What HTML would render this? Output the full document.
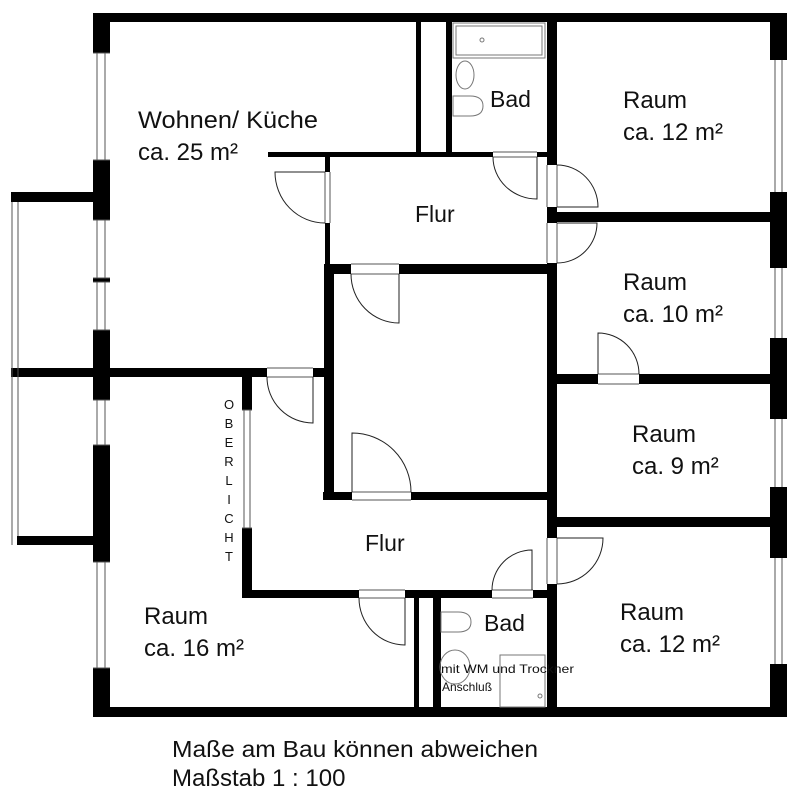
<!DOCTYPE html>
<html><head><meta charset="utf-8"><style>
html,body{margin:0;padding:0;background:#fff;}
svg{display:block;}
text{font-family:"Liberation Sans",Arial,sans-serif;fill:#111;}
</style></head><body>
<svg width="798" height="800" viewBox="0 0 798 800" xmlns="http://www.w3.org/2000/svg">
<rect width="798" height="800" fill="#fff"/>
<g fill="#000">
<rect x="93" y="13" width="694" height="9"/>
<rect x="93" y="707" width="694" height="10"/>
<rect x="93" y="13" width="17" height="40"/>
<rect x="93" y="160" width="17" height="60"/>
<rect x="93" y="278" width="17" height="4"/>
<rect x="93" y="330" width="17" height="70"/>
<rect x="93" y="445" width="17" height="117"/>
<rect x="93" y="668" width="17" height="49"/>
<rect x="770" y="13" width="17" height="47"/>
<rect x="770" y="192" width="17" height="76"/>
<rect x="770" y="338" width="17" height="81"/>
<rect x="770" y="487" width="17" height="71"/>
<rect x="770" y="664" width="17" height="53"/>
<rect x="11" y="192" width="82" height="10"/>
<rect x="17" y="536" width="76" height="9"/>
<rect x="11" y="368" width="256" height="9"/>
<rect x="313" y="368" width="21" height="9"/>
<rect x="268" y="152" width="225" height="5"/>
<rect x="537" y="152" width="10" height="5"/>
<rect x="325" y="152" width="5" height="20"/>
<rect x="325" y="223" width="5" height="42"/>
<rect x="324" y="264" width="10" height="236"/>
<rect x="324" y="264" width="27" height="10"/>
<rect x="399" y="264" width="157" height="10"/>
<rect x="323" y="492" width="29" height="8"/>
<rect x="411" y="492" width="145" height="8"/>
<rect x="547" y="22" width="10" height="143"/>
<rect x="547" y="207" width="10" height="16"/>
<rect x="547" y="263" width="10" height="275"/>
<rect x="547" y="584" width="10" height="133"/>
<rect x="557" y="212" width="213" height="10"/>
<rect x="557" y="374" width="41" height="10"/>
<rect x="639" y="374" width="131" height="10"/>
<rect x="557" y="517" width="213" height="10"/>
<rect x="242" y="377" width="10" height="33"/>
<rect x="242" y="528" width="10" height="70"/>
<rect x="242" y="590" width="117" height="8"/>
<rect x="405" y="590" width="87" height="8"/>
<rect x="533" y="590" width="23" height="8"/>
<rect x="416" y="22" width="5" height="135"/>
<rect x="446" y="22" width="6" height="135"/>
<rect x="414" y="598" width="5" height="110"/>
<rect x="433" y="598" width="8" height="110"/>
</g>
<g fill="none" stroke="#555" stroke-width="1">
<path d="M97 53V160M105 53V160M97 220V278M105 220V278M97 282V330M105 282V330M97 400V445M105 400V445M97 562V668M105 562V668"/>
<path d="M93 53H110M93 160H110M93 220H110M93 278H110M93 282H110M93 330H110M93 400H110M93 445H110M93 562H110M93 668H110"/>
<path d="M775 60V192M782 60V192M775 268V338M782 268V338M775 419V487M782 419V487M775 558V664M782 558V664"/>
<path d="M12 202V545M18 202V536"/>
<path d="M244 410V528M250 410V528M242 410H252M242 528H252"/>
<path d="M267 368H313M267 377H313M351 264H399M351 274H399M352 492H411M352 500H411M359 590H405M359 598H405M492 590H533M492 598H533M493 152H537M493 157H537M598 374H639M598 384H639"/>
<path d="M547 165V207M557 165V207M547 223V263M557 223V263M547 538V584M557 538V584M325 172V223M330 172V223"/>
</g>
<g fill="none" stroke="#222" stroke-width="1">
<path d="M325 172H275A50 51 0 0 0 325 223"/>
<path d="M399 274V323A48 49 0 0 1 351 274"/>
<path d="M352 492V433A59 59 0 0 1 411 492"/>
<path d="M313 377V423A46 46 0 0 1 267 377"/>
<path d="M405 598V645A46 47 0 0 1 359 598"/>
<path d="M532 590V550A40 40 0 0 0 492 590"/>
<path d="M537 157V199A44 42 0 0 1 493 157"/>
<path d="M557 207H598A41 42 0 0 0 557 165"/>
<path d="M557 223H597A40 40 0 0 1 557 263"/>
<path d="M598 374V333A41 41 0 0 1 639 374"/>
<path d="M557 538H603A46 46 0 0 1 557 584"/>
</g>
<g fill="none" stroke="#777" stroke-width="1">
<rect x="453" y="23" width="92" height="35"/>
<rect x="456" y="26" width="86" height="29"/>
<circle cx="482" cy="40" r="2"/>
<ellipse cx="465" cy="75" rx="9" ry="14"/>
<path d="M453 96H470Q483 96 483 106Q483 116 470 116H453Z"/>
<path d="M441 612H458Q471 612 471 622Q471 632 458 632H441Z"/>
<ellipse cx="455" cy="667" rx="15" ry="17"/>
<rect x="500" y="655" width="45" height="52"/>
<circle cx="540" cy="696" r="2"/>
</g>
<g font-size="24">
<text x="138" y="128" textLength="180" lengthAdjust="spacingAndGlyphs">Wohnen/ Küche</text>
<text x="138" y="160">ca. 25 m²</text>
<text x="490" y="107" font-size="23">Bad</text>
<text x="623" y="108">Raum</text>
<text x="623" y="140">ca. 12 m²</text>
<text x="415" y="222" font-size="23">Flur</text>
<text x="623" y="290">Raum</text>
<text x="623" y="322">ca. 10 m²</text>
<text x="632" y="442">Raum</text>
<text x="632" y="474">ca. 9 m²</text>
<text x="365" y="551" font-size="23">Flur</text>
<text x="484" y="631" font-size="23">Bad</text>
<text x="620" y="620">Raum</text>
<text x="620" y="652">ca. 12 m²</text>
<text x="144" y="624">Raum</text>
<text x="144" y="656">ca. 16 m²</text>
</g>
<g font-size="12" fill="#333">
<text x="441" y="673" textLength="133" lengthAdjust="spacingAndGlyphs">mit WM und Trockner</text>
<text x="442" y="691">Anschluß</text>
</g>
<g font-size="13" text-anchor="middle">
<text x="229" y="409">O</text><text x="229" y="428">B</text><text x="229" y="447">E</text>
<text x="229" y="466">R</text><text x="229" y="485">L</text><text x="229" y="504">I</text>
<text x="229" y="523">C</text><text x="229" y="542">H</text><text x="229" y="561">T</text>
</g>
<text x="172" y="757" font-size="23" textLength="366" lengthAdjust="spacingAndGlyphs">Maße am Bau können abweichen</text>
<text x="172" y="786" font-size="24">Maßstab 1 : 100</text>
</svg>
</body></html>
